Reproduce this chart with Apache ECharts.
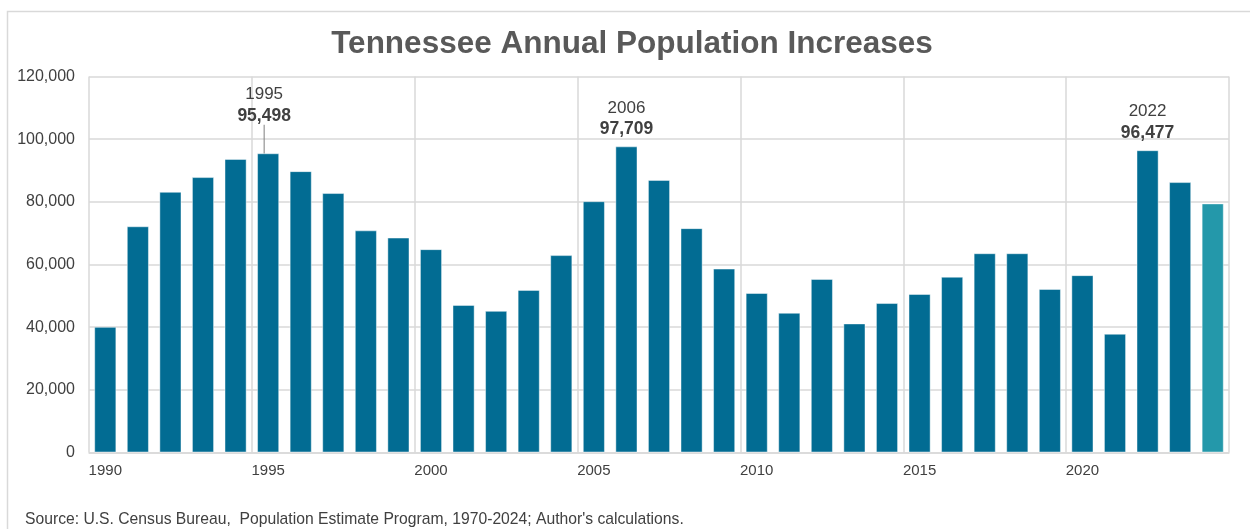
<!DOCTYPE html>
<html>
<head>
<meta charset="utf-8">
<script src="https://cdn.jsdelivr.net/npm/echarts@6/dist/echarts.min.js"></script>
<style>html,body{margin:0;padding:0;background:#fff;}#c{width:1250px;height:529px;}</style>
</head>
<body>
<div id="c"></div>
<script>
const years = ['1990','1991','1992','1993','1994','1995','1996','1997','1998','1999',
  '2000','2001','2002','2003','2004','2005','2006','2007','2008','2009',
  '2010','2011','2012','2013','2014','2015','2016','2017','2018','2019',
  '2020','2021','2022','2023','2024'];
const increases = [40100, 72200, 83200, 87900, 93700, 95498, 89800, 82800, 70900, 68600,
  64900, 47100, 45200, 51900, 63000, 80200, 97709, 87000, 71600, 58700,
  50900, 44600, 55400, 41200, 47700, 50600, 56100, 63600, 63600, 52200,
  56600, 37900, 96477, 86300, 79500];
const highlighted = ['1995', '2006', '2022'];
const yTicks = [0, 20000, 40000, 60000, 80000, 100000, 120000];
const titleText = 'Tennessee Annual Population Increases';
const sourceText = "Source: U.S. Census Bureau,  Population Estimate Program, 1970-2024; Author's calculations.";

const fmt = v => v.toLocaleString('en-US');
const FONT = 'Liberation Sans, Arial, sans-serif';

const barData = increases.map((v, i) => {
  const item = { value: v };
  if (i === years.length - 1) item.itemStyle = { color: '#2498aa' };
  if (highlighted.includes(years[i])) {
    item.label = {
      show: true,
      position: 'top',
      distance: 7,
      formatter: () => '{y|' + years[i] + '}\n{v|' + fmt(v) + '}',
      rich: {
        y: { fontFamily: FONT, fontSize: 17, color: '#404040', lineHeight: 21, align: 'center' },
        v: { fontFamily: FONT, fontSize: 17.5, fontWeight: 'bold', color: '#404040', lineHeight: 21, align: 'center' }
      }
    };
    if (years[i] === '1995') {
      item.labelLine = { show: true, lineStyle: { color: '#7f7f7f', width: 1 } };
    }
  }
  return item;
});

const chart = echarts.init(document.getElementById('c'), null, { renderer: 'canvas' });
chart.setOption({
  animation: false,
  backgroundColor: '#fff',
  title: {
    text: titleText,
    left: 627,
    textAlign: 'center',
    top: 23,
    textStyle: { fontFamily: FONT, fontSize: 31.5, fontWeight: 'bold', color: '#595959' }
  },
  graphic: [
    { type: 'rect', shape: { x: 7.5, y: 11.5, width: 1260, height: 540 }, style: { fill: 'none', stroke: '#d9d9d9', lineWidth: 1.5 }, silent: true, z: -1 },
    { type: 'text', left: 25, top: 512, style: { text: sourceText, fontFamily: FONT, fontSize: 15.7, fill: '#404040' } }
  ],
  grid: { left: 89, right: 21, top: 76.5, bottom: 76.5, containLabel: false },
  xAxis: {
    type: 'category',
    data: years,
    boundaryGap: true,
    axisLine: { show: true, lineStyle: { color: '#d9d9d9', width: 1.5 } },
    axisTick: { show: false },
    axisLabel: { interval: 4, fontFamily: FONT, fontSize: 15, color: '#404040', margin: 11 },
    splitLine: { show: true, interval: 4, lineStyle: { color: '#d9d9d9', width: 1.5 } }
  },
  yAxis: {
    type: 'value',
    min: yTicks[0],
    max: yTicks[yTicks.length - 1],
    interval: yTicks[1] - yTicks[0],
    axisLine: { show: false },
    axisTick: { show: false },
    axisLabel: { fontFamily: FONT, fontSize: 16, color: '#404040', margin: 14, formatter: v => fmt(v) },
    splitLine: { show: true, lineStyle: { color: '#d9d9d9', width: 1.5 } }
  },
  series: [{
    type: 'bar',
    data: barData,
    barCategoryGap: '32%',
    itemStyle: { color: '#026c93', borderColor: 'rgba(255,255,255,0.45)', borderWidth: 1 },
    labelLayout: params => (params.dataIndex === 5 ? { dx: -4, dy: -20 } : {}),
    labelLine: { show: false }
  }]
});
</script>
</body>
</html>
